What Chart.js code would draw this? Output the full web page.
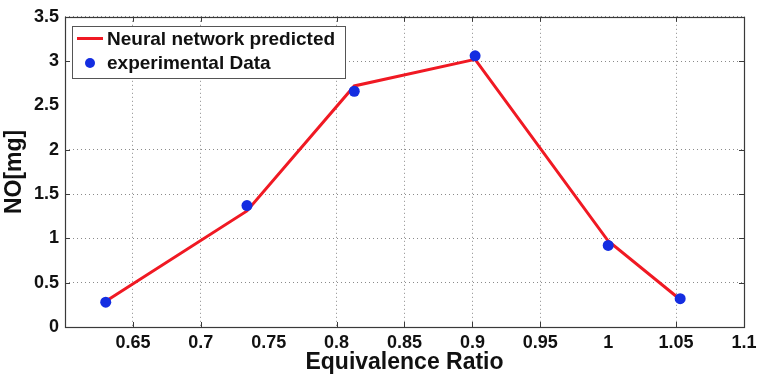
<!DOCTYPE html>
<html><head><meta charset="utf-8">
<script src="https://cdn.jsdelivr.net/npm/chart.js@4"></script>
<style>html,body{margin:0;padding:0;background:#fff;} canvas{display:block;}</style>
</head><body>
<canvas id="c" width="762" height="379"></canvas>
<script>
// ---- data ----
const equivalenceRatio = [0.630, 0.734, 0.813, 0.902, 1.000, 1.053];
const noPredicted      = [0.29, 1.31, 2.72, 3.02, 0.97, 0.31];
const noExperimental   = [0.28, 1.37, 2.66, 3.06, 0.92, 0.32];
const seriesLabels = ['Neural network predicted', 'experimental Data'];
const xTickValues = [0.65, 0.7, 0.75, 0.8, 0.85, 0.9, 0.95, 1.0, 1.05, 1.1];
const xTickLabels = ['0.65', '0.7', '0.75', '0.8', '0.85', '0.9', '0.95', '1', '1.05', '1.1'];
const yTickValues = [0, 0.5, 1, 1.5, 2, 2.5, 3, 3.5];
const yTickLabels = ['0', '0.5', '1', '1.5', '2', '2.5', '3', '3.5'];
const xGridHidden = [0.75, 1.0];
const yGridHidden = [2.5];
const xTitle = 'Equivalence Ratio';
const yTitle = 'NO[mg]';

const FONT = "'Liberation Sans', Arial, Helvetica, sans-serif";
const RED = 'rgb(240,25,35)';
const BLUE = 'rgb(20,45,225)';
const GRID = '#8a8a8a';
const FRAME = '#3a3a3a';

const isHidden = (list, v) => list.some(h => Math.abs(h - v) < 1e-6);

const framePlugin = {
  id: 'frameLegend',
  afterDraw(chart) {
    const ctx = chart.ctx;
    const ca = chart.chartArea;
    const xs = chart.scales.x, ys = chart.scales.y;
    ctx.save();
    // inward tick marks
    ctx.strokeStyle = FRAME;
    ctx.lineWidth = 1;
    ctx.beginPath();
    const tl = 5;
    xs.ticks.forEach(t => {
      if (isHidden(xGridHidden, t.value)) return;
      const px = Math.round(xs.getPixelForValue(t.value)) + 0.5;
      ctx.moveTo(px, ca.bottom); ctx.lineTo(px, ca.bottom - tl);
      ctx.moveTo(px, ca.top); ctx.lineTo(px, ca.top + tl);
    });
    ys.ticks.forEach(t => {
      if (isHidden(yGridHidden, t.value)) return;
      const py = Math.round(ys.getPixelForValue(t.value)) + 0.5;
      ctx.moveTo(ca.left, py); ctx.lineTo(ca.left + tl, py);
      ctx.moveTo(ca.right, py); ctx.lineTo(ca.right - tl, py);
    });
    ctx.stroke();
    // frame
    ctx.strokeStyle = FRAME;
    ctx.lineWidth = 1.2;
    ctx.strokeRect(Math.round(ca.left) + 0.5, Math.round(ca.top) + 0.5,
                   Math.round(ca.right - ca.left), Math.round(ca.bottom - ca.top));
    // legend box
    const bx = Math.round(ca.left) + 7, by = Math.round(ca.top) + 9, bw = 273, bh = 52;
    ctx.fillStyle = '#fff';
    ctx.fillRect(bx, by, bw, bh);
    ctx.strokeStyle = '#555';
    ctx.lineWidth = 1;
    ctx.strokeRect(bx + 0.5, by + 0.5, bw, bh);
    const ds = chart.data.datasets;
    const r1 = by + 12.5, r2 = by + 37;
    ctx.strokeStyle = ds[0].borderColor;
    ctx.lineWidth = 3;
    ctx.beginPath(); ctx.moveTo(bx + 5, r1); ctx.lineTo(bx + 31, r1); ctx.stroke();
    ctx.fillStyle = ds[1].backgroundColor;
    ctx.beginPath(); ctx.arc(bx + 18, r2, 5, 0, Math.PI * 2); ctx.fill();
    ctx.fillStyle = '#111';
    ctx.font = 'bold 19px ' + FONT;
    ctx.textBaseline = 'middle';
    ctx.textAlign = 'left';
    ctx.fillText(ds[0].label, bx + 35, r1 + 1);
    ctx.fillText(ds[1].label, bx + 35, r2 + 1);
    ctx.restore();
  }
};

new Chart(document.getElementById('c'), {
  type: 'scatter',
  data: {
    datasets: [
      {
        label: seriesLabels[0],
        data: equivalenceRatio.map((x, i) => ({ x, y: noPredicted[i] })),
        showLine: true,
        borderColor: RED,
        backgroundColor: RED,
        borderWidth: 3,
        pointRadius: 0,
        tension: 0,
        order: 2
      },
      {
        label: seriesLabels[1],
        data: equivalenceRatio.map((x, i) => ({ x, y: noExperimental[i] })),
        showLine: false,
        borderColor: BLUE,
        backgroundColor: BLUE,
        pointRadius: 5.5,
        pointBorderWidth: 0,
        order: 1
      }
    ]
  },
  options: {
    responsive: false,
    animation: false,
    events: [],
    layout: { padding: { top: 13, right: 18, bottom: 0, left: 0 } },
    plugins: { legend: { display: false }, tooltip: { enabled: false } },
    scales: {
      x: {
        type: 'linear',
        min: 0.6, max: 1.1,
        afterBuildTicks: s => { s.ticks = xTickValues.map(v => ({ value: v })); },
        afterFit: s => { s.height = 52; },
        ticks: {
          autoSkip: false, maxRotation: 0,
          padding: 5,
          color: '#111',
          font: { family: FONT, size: 18, weight: 'bold' },
          callback: (v, i) => xTickLabels[i]
        },
        grid: {
          drawTicks: false,
          lineWidth: 1,
          color: c => (c.tick && isHidden(xGridHidden, c.tick.value)) ? 'rgba(0,0,0,0)' : GRID
        },
        border: { display: false, dash: [1, 3] },
        title: {
          display: true, text: xTitle, color: '#111',
          font: { family: FONT, size: 23, weight: 'bold', lineHeight: 1.2 },
          padding: { top: 0, bottom: 3 }
        }
      },
      y: {
        type: 'linear',
        min: 0, max: 3.5,
        afterBuildTicks: s => { s.ticks = yTickValues.map(v => ({ value: v })); },
        afterFit: s => { s.width = 65; },
        ticks: {
          autoSkip: false,
          padding: 6,
          color: '#111',
          font: { family: FONT, size: 18, weight: 'bold' },
          callback: (v, i) => yTickLabels[i]
        },
        grid: {
          drawTicks: false,
          lineWidth: 1,
          color: c => (c.tick && isHidden(yGridHidden, c.tick.value)) ? 'rgba(0,0,0,0)' : GRID
        },
        border: { display: false, dash: [1, 3] },
        title: {
          display: true, text: yTitle, color: '#111',
          font: { family: FONT, size: 23, weight: 'bold', lineHeight: 1.2 },
          padding: { top: 1, bottom: 0 }
        }
      }
    }
  },
  plugins: [framePlugin]
});
</script>
</body></html>
